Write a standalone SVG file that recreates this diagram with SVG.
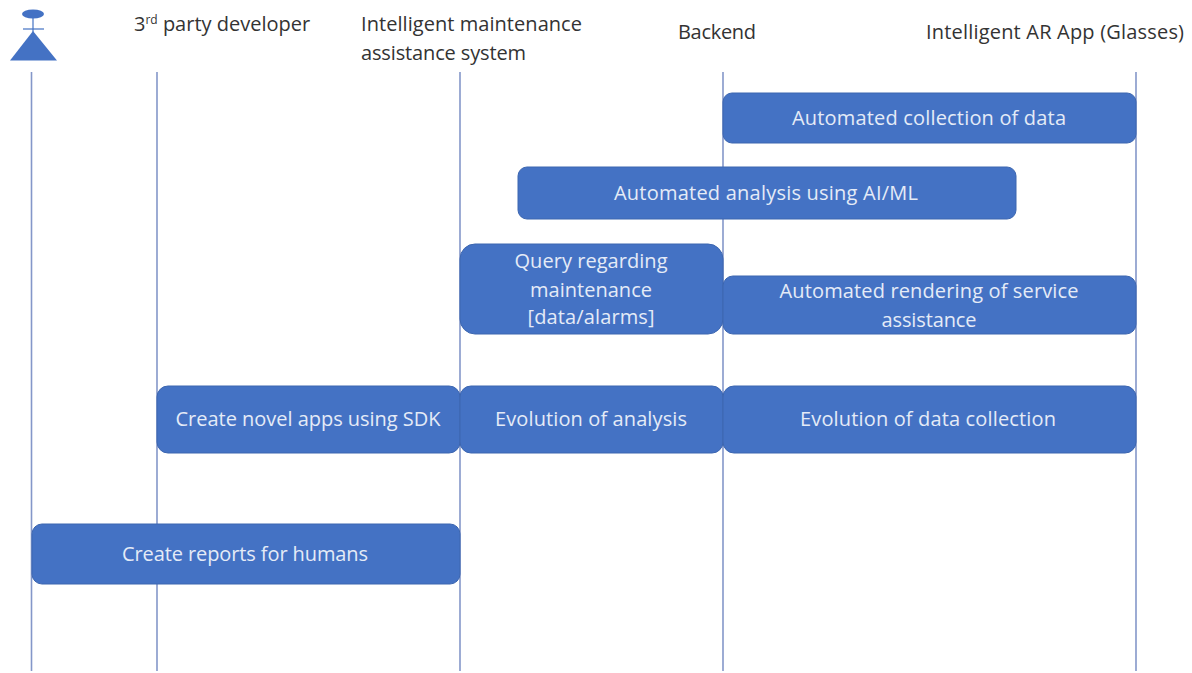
<svg xmlns="http://www.w3.org/2000/svg" width="1192" height="673" viewBox="0 0 1192 673">
<style>
.ll{stroke:#8497c9;stroke-width:1.6;fill:none}
.b{fill:#4472c4;stroke:#3c66b0;stroke-width:1}
.h{font-family:"Open Sans","Liberation Sans",sans-serif;font-size:20px;fill:#333}
.t{font-family:"Open Sans","Liberation Sans",sans-serif;font-size:20px;fill:#e4ebf7;text-anchor:middle}
</style>
<rect width="1192" height="673" fill="#fff"/>
<g id="connectors">
<line class="ll" x1="31.500" y1="72" x2="31.500" y2="671"/>
<line class="ll" x1="157" y1="72" x2="157" y2="671"/>
<line class="ll" x1="460" y1="72" x2="460" y2="671"/>
<line class="ll" x1="723" y1="72" x2="723" y2="671"/>
<line class="ll" x1="1136" y1="72" x2="1136" y2="671"/>
</g>
<g id="actor">
<ellipse cx="33" cy="14" rx="11" ry="4.500" fill="#4472c4"/>
<line x1="33" y1="18" x2="33" y2="32" stroke="#4472c4" stroke-width="1.200"/>
<line x1="23" y1="29" x2="44" y2="29" stroke="#4472c4" stroke-width="1.200"/>
<polygon points="33,31 57,60.500 10,60.500" fill="#4472c4"/>
</g>
<g id="h1"><text class="h" x="134" y="31">3<tspan font-size="12" dy="-7">rd</tspan><tspan dy="7"> party developer</tspan></text></g>
<g id="h2"><text class="h" x="361" y="31" textLength="221">Intelligent maintenance</text><text class="h" x="361" y="60" textLength="165">assistance system</text></g>
<g id="h3"><text class="h" x="678" y="39" textLength="78">Backend</text></g>
<g id="h4"><text class="h" x="926" y="39" textLength="258">Intelligent AR App (Glasses)</text></g>
<g id="n1"><rect class="b" x="723" y="93" width="413" height="50" rx="9"/><text class="t" x="929" y="125" textLength="274">Automated collection of data</text></g>
<g id="n2"><rect class="b" x="518" y="167" width="498" height="52" rx="9"/><text class="t" x="766" y="200" textLength="304">Automated analysis using AI/ML</text></g>
<g id="n3"><rect class="b" x="460" y="244" width="263" height="90" rx="15"/><text class="t" x="591" y="268" textLength="153">Query regarding</text><text class="t" x="591" y="297" textLength="122">maintenance</text><text class="t" x="591" y="324" textLength="127">[data/alarms]</text></g>
<g id="n4"><rect class="b" x="723" y="276" width="413" height="58" rx="10"/><text class="t" x="929" y="298" textLength="299">Automated rendering of service</text><text class="t" x="929" y="327" textLength="95">assistance</text></g>
<g id="n5"><rect class="b" x="157" y="386" width="303" height="67" rx="11"/><text class="t" x="308" y="426" textLength="265">Create novel apps using SDK</text></g>
<g id="n6"><rect class="b" x="460" y="386" width="263" height="67" rx="11"/><text class="t" x="591" y="426" textLength="192">Evolution of analysis</text></g>
<g id="n7"><rect class="b" x="723" y="386" width="413" height="67" rx="11"/><text class="t" x="928" y="426" textLength="256">Evolution of data collection</text></g>
<g id="n8"><rect class="b" x="32" y="524" width="428" height="60" rx="10"/><text class="t" x="245" y="561" textLength="246">Create reports for humans</text></g>
</svg>
